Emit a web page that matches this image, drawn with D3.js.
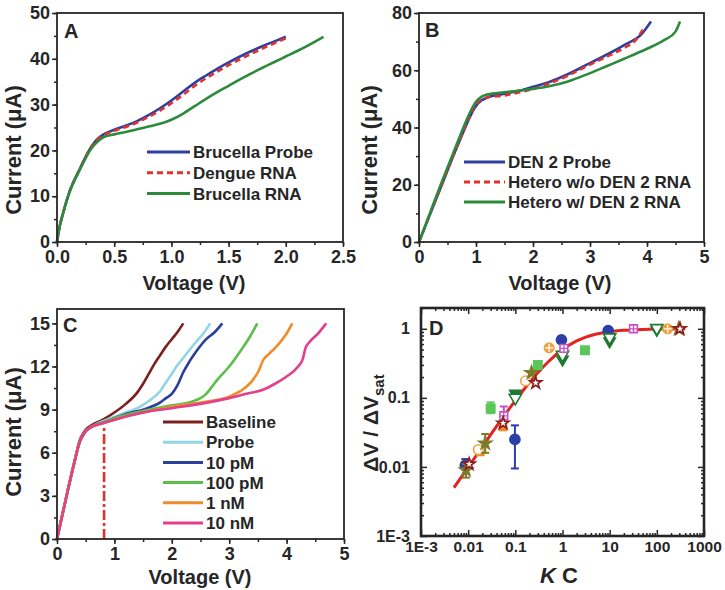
<!DOCTYPE html>
<html><head><meta charset="utf-8">
<script src="https://cdn.jsdelivr.net/npm/d3@7"></script>
<style>
body{margin:0;background:#fff}
svg{display:block}
text{font-family:"Liberation Sans",Arial,sans-serif;font-weight:bold;fill:#262626}
</style>
</head><body>
<svg id="chart" width="725" height="590"></svg>
<script>
// ---------- Panel A data (Voltage V, Current uA) ----------
const aBrucellaProbe = [[0,0],[0.02,3],[0.05,6],[0.1,10.3],[0.2,16],[0.3,20.8],[0.35,22.4],[0.4,23.4],[0.5,24.5],[0.6,25.4],[0.7,26.4],[0.8,27.7],[0.9,29.2],[1.0,30.9],[1.1,32.8],[1.2,34.7],[1.3,36.3],[1.4,37.8],[1.5,39.2],[1.6,40.5],[1.7,41.7],[1.8,42.8],[1.9,43.8],[2.0,44.8]];
const aDengueRNA = [[0,0],[0.02,3],[0.05,6],[0.1,10.3],[0.2,16],[0.3,20.8],[0.35,22.3],[0.4,23.2],[0.5,24.3],[0.6,25.1],[0.7,26.1],[0.8,27.3],[0.9,28.7],[1.0,30.3],[1.1,32.1],[1.2,34.0],[1.3,35.7],[1.4,37.2],[1.5,38.6],[1.6,39.9],[1.7,41.1],[1.8,42.3],[1.9,43.4],[2.03,44.8]];
const aBrucellaRNA = [[0,0],[0.02,3],[0.05,6],[0.1,10.2],[0.2,15.8],[0.3,20.4],[0.35,21.8],[0.4,22.8],[0.5,23.5],[0.6,24],[0.7,24.6],[0.8,25.2],[0.9,25.8],[1.0,26.7],[1.1,28],[1.2,29.6],[1.3,31.2],[1.4,32.7],[1.5,34.1],[1.6,35.5],[1.7,36.8],[1.8,38.1],[1.9,39.3],[2.0,40.5],[2.1,41.7],[2.2,43.0],[2.33,44.8]];
const aLegend = ["Brucella Probe","Dengue RNA","Brucella RNA"];
const aXTicks = [0,0.5,1,1.5,2,2.5];
const aYTicks = [0,10,20,30,40,50];

// ---------- Panel B data ----------
const bDen2Probe = [[0,0],[0.1,5],[0.2,10],[0.4,20],[0.6,30],[0.8,39.5],[0.9,44],[1.0,47.5],[1.1,49.5],[1.2,50.5],[1.5,51.8],[1.8,53],[2.0,54.2],[2.3,56],[2.6,58.5],[3.0,62.5],[3.3,65.5],[3.6,68.8],[3.9,72.5],[4.07,77]];
const bHeteroWo = [[0,0],[0.1,5],[0.2,10],[0.4,20],[0.6,30],[0.8,39.8],[0.9,44.5],[1.0,48],[1.1,49.8],[1.2,50.5],[1.5,51.2],[1.8,52.5],[2.0,53.5],[2.3,55.5],[2.6,58],[3.0,62],[3.3,64.8],[3.6,67.8],[3.8,70.5],[3.95,75]];
const bHeteroW = [[0,0],[0.1,5.2],[0.2,10.5],[0.4,21],[0.6,31],[0.8,41],[0.9,45.5],[1.0,49],[1.1,50.8],[1.2,51.5],[1.5,52.3],[1.8,53],[2.0,53.5],[2.3,54.5],[2.6,56],[3.0,59],[3.3,61.5],[3.6,64],[4.0,67.5],[4.3,70.5],[4.5,73.5],[4.58,77]];
const bLegend = ["DEN 2 Probe","Hetero w/o DEN 2 RNA","Hetero w/ DEN 2 RNA"];
const bXTicks = [0,1,2,3,4,5];
const bYTicks = [0,20,40,60,80];

// ---------- Panel C data ----------
const cRise = [[0,0],[0.1,1.8],[0.2,3.6],[0.3,5.3],[0.4,6.8],[0.45,7.2],[0.5,7.5],[0.6,7.8]];
const cBaseline = [[0,0],[0.1,1.8],[0.2,3.6],[0.3,5.3],[0.4,6.9],[0.45,7.3],[0.5,7.6],[0.6,7.9],[0.8,8.3],[1.0,8.8],[1.2,9.4],[1.4,10.2],[1.5,10.8],[1.6,11.5],[1.7,12.2],[1.8,12.8],[1.9,13.4],[2.0,13.9],[2.1,14.4],[2.2,15]];
const cProbe = [...cRise,[0.8,8.2],[1.0,8.5],[1.2,8.8],[1.4,9.1],[1.6,9.6],[1.8,10.3],[1.9,10.9],[2.0,11.5],[2.1,12.1],[2.2,12.6],[2.4,13.6],[2.55,14.3],[2.67,15]];
const c10pM = [...cRise,[0.8,8.1],[1.0,8.4],[1.2,8.7],[1.5,9.0],[1.8,9.5],[1.9,9.8],[2.0,10.1],[2.1,10.7],[2.2,11.6],[2.3,12.3],[2.4,12.9],[2.6,13.9],[2.75,14.4],[2.88,15]];
const c100pM = [...cRise,[0.8,8.1],[1.0,8.4],[1.5,8.9],[2.0,9.3],[2.3,9.5],[2.5,9.8],[2.6,10.1],[2.7,10.6],[2.8,11.1],[3.0,12.0],[3.2,13.1],[3.35,14],[3.49,15]];
const c1nM = [...cRise,[0.8,8.05],[1.0,8.3],[1.5,8.8],[2.0,9.2],[2.5,9.5],[3.0,9.9],[3.2,10.3],[3.4,11.0],[3.5,11.6],[3.6,12.5],[3.7,12.9],[3.85,13.5],[4.0,14.3],[4.1,15]];
const c10nM = [...cRise,[0.8,8.05],[1.0,8.3],[1.5,8.8],[2.0,9.1],[2.5,9.4],[3.0,9.8],[3.3,10.1],[3.6,10.4],[3.8,10.8],[4.0,11.3],[4.2,12.0],[4.28,12.5],[4.33,13.3],[4.4,13.7],[4.55,14.3],[4.69,15]];
const cLegend = ["Baseline","Probe","10 pM","100 pM","1 nM","10 nM"];
const cMarkerV = 0.82, cMarkerTop = 7.9;
const cXTicks = [0,1,2,3,4,5];
const cYTicks = [0,3,6,9,12,15];

// ---------- Panel D data (K C, dV/dVsat, [errLow, errHigh]) ----------
const dFitX = [0.005,0.01,0.02,0.05,0.1,0.2,0.5,1,2,5,10,20,50,100,200,400];
const dFitY = [0.005,0.0099,0.0196,0.048,0.091,0.167,0.333,0.5,0.667,0.833,0.909,0.952,0.98,0.99,0.995,0.9975];
const dBlueCircle = [[0.0087,0.0105,0.0092,0.013],[0.098,0.025,0.0095,0.04],[0.95,0.69],[9.3,0.94]];
const dGreenSquare = [[0.03,0.07,0.06,0.086],[0.3,0.3],[3.0,0.49]];
const dGreenTriFilled = [[0.1,0.115],[1.0,0.36],[10,0.66],[100,0.97]];
const dGreenTriOpen = [[0.1,0.1],[1.0,0.42],[10,0.75],[100,1.02]];
const dOrangeOpenCircle = [[0.0165,0.0178],[0.165,0.176]];
const dOrangeCrossCircle = [[0.52,0.53],[170,1.0]];
const dOrangeSquare = [[0.018,0.0165],[0.055,0.038]];
const dMagentaSquare = [[0.057,0.055,0.045,0.075],[1.07,0.52],[32,1.0]];
const dOliveStar = [[0.009,0.009,0.007,0.011],[0.023,0.022,0.016,0.03],[0.22,0.23],[290,1.0]];
const dRedStar = [[0.0105,0.011],[0.055,0.043],[0.27,0.165],[310,1.0]];
const dXTicks = [1e-3,0.01,0.1,1,10,100,1000];
const dXLabels = ["1E-3","0.01","0.1","1","10","100","1000"];
const dYTicks = [1e-3,0.01,0.1,1];
const dYLabels = ["1E-3","0.01","0.1","1"];

// ---------- drawing ----------
const svg = d3.select("#chart");
const INK = "#262626";

function styleAxis(g, fs){
  g.select(".domain").remove();
  g.selectAll(".tick line").attr("stroke", INK).attr("stroke-width", 1.5);
  g.selectAll(".tick text").attr("fill", INK).style("font-size", fs+"px")
    .style("font-family", '"Liberation Sans",Arial,sans-serif').style("font-weight","bold");
}

function linPanel(o){
  const g = svg.append("g");
  const x = d3.scaleLinear().domain(o.xDom).range([o.l, o.r]);
  const y = d3.scaleLinear().domain(o.yDom).range([o.b, o.t]);
  const line = d3.line().x(d => x(d[0])).y(d => y(d[1])).curve(d3.curveMonotoneX);
  o.series.forEach(s => {
    g.append("path").datum(s.data).attr("d", line).attr("fill","none")
      .attr("stroke", s.color).attr("stroke-width", 2.6)
      .attr("stroke-dasharray", s.dash || null).attr("stroke-linejoin","round");
  });
  if (o.extra) o.extra(g, x, y);
  const minorX = d3.range(o.xDom[0], o.xDom[1] + 1e-9, o.xMinor);
  const minorY = d3.range(o.yDom[0], o.yDom[1] + 1e-9, o.yMinor);
  g.append("g").attr("transform",`translate(0,${o.b})`)
    .call(d3.axisBottom(x).tickValues(minorX).tickSize(3).tickFormat("")).call(a=>styleAxis(a,18));
  g.append("g").attr("transform",`translate(${o.l},0)`)
    .call(d3.axisLeft(y).tickValues(minorY).tickSize(3).tickFormat("")).call(a=>styleAxis(a,18));
  g.append("g").attr("transform",`translate(0,${o.b})`)
    .call(d3.axisBottom(x).tickValues(o.xTicks).tickSize(5).tickPadding(3).tickFormat(o.xFmt)).call(a=>styleAxis(a,18));
  g.append("g").attr("transform",`translate(${o.l},0)`)
    .call(d3.axisLeft(y).tickValues(o.yTicks).tickSize(5).tickPadding(2).tickFormat(d3.format("d"))).call(a=>styleAxis(a,18));
  g.append("rect").attr("x",o.l).attr("y",o.t).attr("width",o.r-o.l).attr("height",o.b-o.t)
    .attr("fill","none").attr("stroke",INK).attr("stroke-width",1.8);
  g.append("text").attr("x",o.xt[0]).attr("y",o.xt[1]).attr("text-anchor","middle")
    .style("font-size","20px").text("Voltage (V)");
  g.append("text").attr("transform",`translate(${o.yt[0]},${o.yt[1]}) rotate(-90)`).attr("text-anchor","middle")
    .attr("dy","0.35em").style("font-size","22px").text("Current (\u03BCA)");
  g.append("text").attr("x",o.lab[0]).attr("y",o.lab[1]).style("font-size","20px").text(o.label);
  o.series.forEach((s,i) => {
    const yy = o.leg.y + i*o.leg.dy;
    g.append("line").attr("x1",o.leg.x1).attr("x2",o.leg.x2).attr("y1",yy).attr("y2",yy)
      .attr("stroke",s.color).attr("stroke-width",3).attr("stroke-dasharray", s.dash || null);
    g.append("text").attr("x",o.leg.x2+3).attr("y",yy).attr("dy","0.36em")
      .style("font-size","17px").text(s.name);
  });
}

linPanel({
  l:57, r:343, t:13, b:242, xDom:[0,2.5], yDom:[0,50], xMinor:0.25, yMinor:5,
  xTicks:aXTicks, yTicks:aYTicks, xFmt:d3.format(".1f"),
  series:[
    {name:aLegend[0], data:aBrucellaProbe, color:"#2f3f9e"},
    {name:aLegend[1], data:aDengueRNA, color:"#e2302f", dash:"6,4"},
    {name:aLegend[2], data:aBrucellaRNA, color:"#2d8a3c"}
  ],
  xt:[194,290], yt:[13,150], lab:[64,38], label:"A",
  leg:{x1:147, x2:190, y:152, dy:20.8}
});

linPanel({
  l:419, r:704, t:13, b:242, xDom:[0,5], yDom:[0,80], xMinor:0.5, yMinor:10,
  xTicks:bXTicks, yTicks:bYTicks, xFmt:d3.format("d"),
  series:[
    {name:bLegend[0], data:bDen2Probe, color:"#2f3f9e"},
    {name:bLegend[1], data:bHeteroWo, color:"#e2302f", dash:"6,4"},
    {name:bLegend[2], data:bHeteroW, color:"#2d8a3c"}
  ],
  xt:[560,290], yt:[369,150], lab:[425,37], label:"B",
  leg:{x1:464, x2:505, y:162, dy:20}
});

linPanel({
  l:57, r:344, t:309, b:539, xDom:[0,5], yDom:[0,16], xMinor:0.5, yMinor:1.5,
  xTicks:cXTicks, yTicks:cYTicks, xFmt:d3.format("d"),
  series:[
    {name:cLegend[0], data:cBaseline, color:"#7b1f1f"},
    {name:cLegend[1], data:cProbe, color:"#92d5e6"},
    {name:cLegend[2], data:c10pM, color:"#2c3f9c"},
    {name:cLegend[3], data:c100pM, color:"#5bbf4a"},
    {name:cLegend[4], data:c1nM, color:"#f08c2c"},
    {name:cLegend[5], data:c10nM, color:"#e43f8a"}
  ],
  extra:(g,x,y)=>{
    g.append("line").attr("x1",x(cMarkerV)).attr("x2",x(cMarkerV)).attr("y1",y(0)).attr("y2",y(cMarkerTop))
      .attr("stroke","#e0302c").attr("stroke-width",2.6).attr("stroke-dasharray","10,3,3,3");
  },
  xt:[200,584], yt:[13,432], lab:[63,332], label:"C",
  leg:{x1:163, x2:203, y:422, dy:20.2}
});

// ---------- Panel D ----------
(function(){
  const l=421, r=704, t=308, b=536;
  const g = svg.append("g");
  const x = d3.scaleLog().domain([1e-3,1000]).range([l,r]);
  const y = d3.scaleLog().domain([1e-3,2]).range([b,t]);
  const fit = dFitX.map((v,i)=>[v,dFitY[i]]);
  g.append("path").datum(fit).attr("fill","none").attr("stroke","#e2231f").attr("stroke-width",3)
    .attr("d", d3.line().x(d=>x(d[0])).y(d=>y(d[1])).curve(d3.curveMonotoneX));
  const series = [
    {data:dGreenSquare, type:d3.symbolSquare, size:70, color:"#5cc65a", fill:true},
    {data:dOrangeSquare, type:d3.symbolSquare, size:50, color:"#f08a22", fill:true},
    {data:dBlueCircle, type:d3.symbolCircle, size:80, color:"#2c3fa6", fill:true},
    {data:dGreenTriFilled, type:d3.symbolTriangle, size:55, color:"#1e7a30", fill:true, rot:180},
    {data:dGreenTriOpen, type:d3.symbolTriangle, size:65, color:"#1e7a30", fill:false, rot:180},
    {data:dOrangeOpenCircle, type:d3.symbolCircle, size:75, color:"#f0a040", fill:false},
    {data:dOrangeCrossCircle, type:d3.symbolCircle, size:70, color:"#f0a040", fill:true, cross:true},
    {data:dMagentaSquare, type:d3.symbolSquare, size:60, color:"#c452c4", fill:false, cross:true},
    {data:dOliveStar, type:d3.symbolStar, size:50, color:"#7e7a2c", fill:true},
    {data:dRedStar, type:d3.symbolStar, size:45, color:"#8c1c1c", fill:false}
  ];
  series.forEach(s=>{
    s.data.forEach(p=>{
      const cx=x(p[0]), cy=y(p[1]);
      if (p.length>2){
        const y1=y(p[2]), y2=y(p[3]);
        g.append("line").attr("x1",cx).attr("x2",cx).attr("y1",y1).attr("y2",y2).attr("stroke",s.color).attr("stroke-width",2);
        [y1,y2].forEach(v=>g.append("line").attr("x1",cx-4).attr("x2",cx+4).attr("y1",v).attr("y2",v).attr("stroke",s.color).attr("stroke-width",2));
      }
      g.append("path").attr("d", d3.symbol().type(s.type).size(s.size)())
        .attr("transform",`translate(${cx},${cy}) rotate(${s.rot||0})`)
        .attr("fill", s.fill ? s.color : "#fff").attr("stroke", s.color).attr("stroke-width", 1.6);
      if (s.cross){
        g.append("path").attr("d",`M${cx-4},${cy}H${cx+4}M${cx},${cy-4}V${cy+4}`)
          .attr("stroke", s.fill ? "#fff" : s.color).attr("stroke-width",1.3);
      }
    });
  });
  const minorX = [], minorY = [];
  for (let e=-3;e<3;e++) for (let m=2;m<10;m++) minorX.push(m*Math.pow(10,e));
  for (let e=-3;e<1;e++) for (let m=2;m<10;m++) if (m*Math.pow(10,e)<=2) minorY.push(m*Math.pow(10,e));
  g.append("g").attr("transform",`translate(0,${b})`).call(d3.axisBottom(x).tickValues(minorX).tickSize(-3).tickFormat("")).call(a=>styleAxis(a,15));
  g.append("g").attr("transform",`translate(0,${t})`).call(d3.axisTop(x).tickValues(minorX).tickSize(-3).tickFormat("")).call(a=>styleAxis(a,15));
  g.append("g").attr("transform",`translate(${l},0)`).call(d3.axisLeft(y).tickValues(minorY).tickSize(-3).tickFormat("")).call(a=>styleAxis(a,15));
  g.append("g").attr("transform",`translate(${r},0)`).call(d3.axisRight(y).tickValues(minorY).tickSize(-3).tickFormat("")).call(a=>styleAxis(a,15));
  g.append("g").attr("transform",`translate(0,${b})`).call(d3.axisBottom(x).tickValues(dXTicks).tickSize(-6).tickPadding(5).tickFormat((d,i)=>dXLabels[i])).call(a=>styleAxis(a,15.5));
  g.append("g").attr("transform",`translate(0,${t})`).call(d3.axisTop(x).tickValues(dXTicks).tickSize(-6).tickFormat("")).call(a=>styleAxis(a,15));
  g.append("g").attr("transform",`translate(${l},0)`).call(d3.axisLeft(y).tickValues(dYTicks).tickSize(-6).tickPadding(11).tickFormat((d,i)=>dYLabels[i])).call(a=>styleAxis(a,16));
  g.append("g").attr("transform",`translate(${r},0)`).call(d3.axisRight(y).tickValues(dYTicks).tickSize(-6).tickFormat("")).call(a=>styleAxis(a,15));
  g.append("rect").attr("x",l).attr("y",t).attr("width",r-l).attr("height",b-t)
    .attr("fill","none").attr("stroke",INK).attr("stroke-width",2.6);
  g.append("text").attr("x",429).attr("y",335).style("font-size","20px").text("D");
  const kc = g.append("text").attr("x",559).attr("y",583).attr("text-anchor","middle").style("font-size","22px");
  kc.append("tspan").style("font-style","italic").text("K");
  kc.append("tspan").text(" C");
  const yt = g.append("text").attr("transform","translate(378,423) rotate(-90)").attr("text-anchor","middle").style("font-size","21px");
  yt.append("tspan").text("\u0394V / \u0394V");
  yt.append("tspan").attr("dy",6).style("font-size","15px").text("sat");
})();
</script>
</body></html>
